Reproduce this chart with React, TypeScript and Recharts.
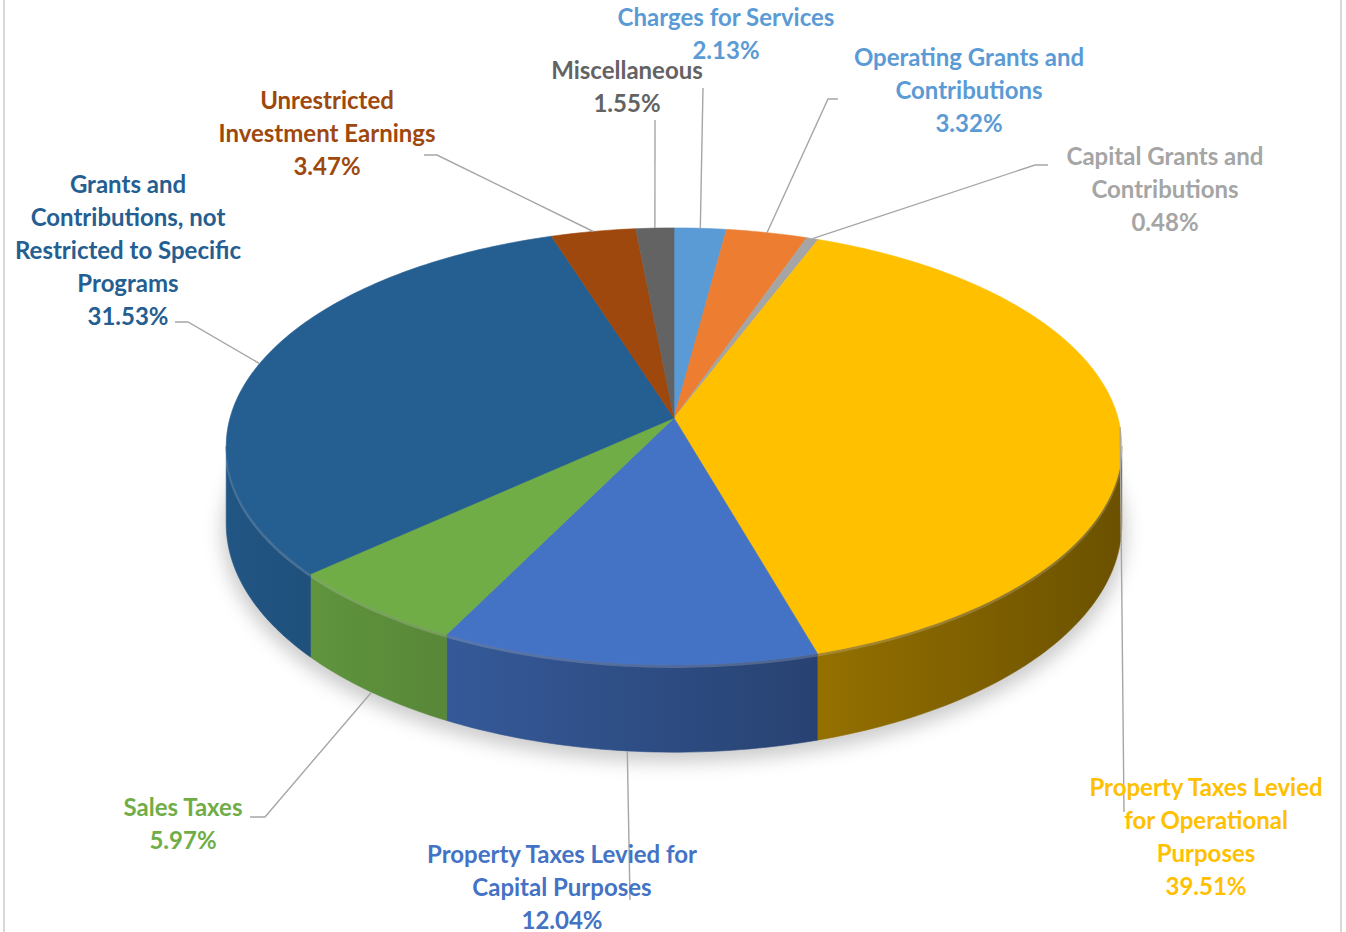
import React from 'react';
import { PieChart, Pie, Cell } from 'recharts';

const categories = [
  'Charges for Services',
  'Operating Grants and\nContributions',
  'Capital Grants and\nContributions',
  'Property Taxes Levied\nfor Operational\nPurposes',
  'Property Taxes Levied for\nCapital Purposes',
  'Sales Taxes',
  'Grants and\nContributions, not\nRestricted to Specific\nPrograms',
  'Unrestricted\nInvestment Earnings',
  'Miscellaneous',
];
const shares = [2.13, 3.32, 0.48, 39.51, 12.04, 5.97, 31.53, 3.47, 1.55];
const sliceColors = ['#5B9BD5', '#ED7D31', '#A5A5A5', '#FFC000', '#4472C4', '#70AD47', '#255E91', '#9E480E', '#636363'];
const labelColors = ['#5B9BD5', '#5B9BD5', '#A5A5A5', '#FFC000', '#4472C4', '#70AD47', '#255E91', '#9E480E', '#636363'];

const data = categories.map((c, i) => ({ name: c.replace(/\n/g, ' '), value: shares[i] }));
const shadowData = [{ name: 'shadow', value: 1 }];

// label placement (text centre x, first line centre y, leader elbow points)
const labelLayout = [
  { x: 726, y: 18, path: [[703, 88]] },
  { x: 969, y: 58, path: [[828, 99], [838, 99]] },
  { x: 1165, y: 157, path: [[1035, 165], [1048, 165]] },
  { x: 1206, y: 788, path: [[1124, 812]] },
  { x: 562, y: 855, path: [[630, 900]] },
  { x: 183, y: 808, path: [[265, 817], [250, 817]] },
  { x: 128, y: 185, path: [[188, 322], [175, 322]] },
  { x: 327, y: 101, path: [[437, 155], [424, 155]] },
  { x: 627, y: 71, path: [[655, 120]] },
];

const K = 0.13; // perspective strength
const TILT = 0.4838; // vertical squash
const DEPTH = 0.171; // thickness relative to radius
const RAD = Math.PI / 180;
const EDGE = Math.asin(K) / RAD;
const FONT = 'Lato, "Open Sans", sans-serif';
const FS = 24;
const LINE = 33;

function project(cx: number, cy: number, r: number, theta: number) {
  const t = theta * RAD;
  const X = Math.sin(t);
  const Z = Math.cos(t);
  const d = 1 + K * Z;
  return { x: cx + (r * X) / d, y: cy - (r * TILT * Z) / d, s: 1 / d, Z };
}

function shade(hex: string, f: number) {
  const n = parseInt(hex.slice(1), 16);
  const r = Math.round(((n >> 16) & 255) * f);
  const g = Math.round(((n >> 8) & 255) * f);
  const b = Math.round((n & 255) * f);
  return `rgb(${r},${g},${b})`;
}

const TopSlice = (props: any) => {
  const { cx, cy, outerRadius, startAngle, endAngle, fill } = props;
  const t1 = 90 - startAngle;
  const t2 = 90 - endAngle;
  const n = Math.max(2, Math.ceil(Math.abs(t2 - t1)));
  let d = `M${cx},${cy}`;
  for (let i = 0; i <= n; i++) {
    const p = project(cx, cy, outerRadius, t1 + ((t2 - t1) * i) / n);
    d += ` L${p.x.toFixed(2)},${p.y.toFixed(2)}`;
  }
  d += ' Z';
  return <path d={d} fill={fill} stroke={fill} strokeWidth={0.6} strokeLinejoin="round" />;
};

const SideSlice = (props: any) => {
  const { cx, cy, outerRadius, startAngle, endAngle, fill } = props;
  const t1 = 90 - startAngle;
  const t2 = 90 - endAngle;
  const lo = Math.max(t1, 90 + EDGE);
  const hi = Math.min(t2, 270 - EDGE);
  if (hi <= lo) return <g />;
  const n = Math.max(2, Math.ceil(hi - lo));
  const top: { x: number; y: number; s: number }[] = [];
  for (let i = 0; i <= n; i++) top.push(project(cx, cy, outerRadius, lo + ((hi - lo) * i) / n));
  let d = '';
  top.forEach((p, i) => {
    d += `${i === 0 ? 'M' : ' L'}${p.x.toFixed(2)},${p.y.toFixed(2)}`;
  });
  for (let i = top.length - 1; i >= 0; i--) {
    const p = top[i];
    d += ` L${p.x.toFixed(2)},${(p.y + outerRadius * DEPTH * p.s).toFixed(2)}`;
  }
  d += ' Z';
  let edge = '';
  top.forEach((p, i) => {
    edge += `${i === 0 ? 'M' : ' L'}${p.x.toFixed(2)},${(p.y + 1.5).toFixed(2)}`;
  });
  const id = `side-${fill.replace('#', '')}`;
  const w = outerRadius * 1.01;
  return (
    <g>
      <defs>
        <linearGradient id={id} gradientUnits="userSpaceOnUse" x1={cx - w} y1={0} x2={cx + w} y2={0}>
          <stop offset="0" stopColor={shade(fill, 0.9)} />
          <stop offset="0.5" stopColor={shade(fill, 0.66)} />
          <stop offset="1" stopColor={shade(fill, 0.42)} />
        </linearGradient>
      </defs>
      <path d={d} fill={`url(#${id})`} stroke={`url(#${id})`} strokeWidth={0.6} />
      <path d={edge} fill="none" stroke="#ffffff" strokeOpacity={0.18} strokeWidth={3} />
    </g>
  );
};

const ShadowShape = (props: any) => {
  const { cx, cy, outerRadius } = props;
  let d = '';
  for (let i = 0; i <= 360; i += 2) {
    const p = project(cx, cy, outerRadius + 4, i);
    const y = p.y + outerRadius * DEPTH * p.s + 8;
    d += `${i === 0 ? 'M' : ' L'}${p.x.toFixed(2)},${y.toFixed(2)}`;
  }
  d += ' Z';
  return (
    <g>
      <defs>
        <filter id="pieShadow" x="-20%" y="-20%" width="140%" height="140%">
          <feGaussianBlur stdDeviation="9" />
        </filter>
      </defs>
      <path d={d} fill="#000" fillOpacity={0.2} filter="url(#pieShadow)" />
    </g>
  );
};

const renderLabel = (p: any) => {
  const i = p.index;
  const theta = 90 - p.midAngle;
  const pt = project(p.cx, p.cy, p.outerRadius, theta);
  const front = pt.Z < -K;
  const ay = front ? pt.y + p.outerRadius * DEPTH * pt.s : pt.y;
  const lay = labelLayout[i];
  const pts = [[pt.x, ay], ...lay.path].map((q) => `${q[0].toFixed(1)},${q[1].toFixed(1)}`).join(' ');
  const lines = categories[i].split('\n').concat([`${shares[i].toFixed(2)}%`]);
  return (
    <g key={`lbl-${i}`}>
      <polyline points={pts} fill="none" stroke="#A6A6A6" strokeWidth={1.4} />
      <text textAnchor="middle" fill={labelColors[i]} fontFamily={FONT} fontWeight={700} fontSize={FS}>
        {lines.map((l, j) => (
          <tspan key={j} x={lay.x} y={lay.y + j * LINE + FS * 0.34}>
            {l}
          </tspan>
        ))}
      </text>
    </g>
  );
};

export default function App() {
  return (
    <div style={{ position: 'absolute', left: 0, top: 0, width: 1346, height: 932, background: '#ffffff' }}>
      <div
        style={{
          position: 'absolute',
          left: 3,
          top: 0,
          width: 1339,
          height: 932,
          borderLeft: '2px solid #D9D9D9',
          borderRight: '2px solid #D9D9D9',
          boxSizing: 'border-box',
        }}
      />
      <div style={{ position: 'absolute', left: 0, top: 0 }}>
        <PieChart width={1346} height={932} margin={{ top: 0, right: 0, bottom: 0, left: 0 }}>
          <Pie
            data={shadowData}
            dataKey="value"
            cx={674}
            cy={418}
            outerRadius={444}
            startAngle={90}
            endAngle={-270}
            isAnimationActive={false}
            inactiveShape={ShadowShape}
            activeShape={ShadowShape}
            shape={ShadowShape}
            labelLine={false}
            fill="#000"
          />
          <Pie
            data={data}
            dataKey="value"
            nameKey="name"
            cx={674}
            cy={418}
            outerRadius={444}
            startAngle={90}
            endAngle={-270}
            isAnimationActive={false}
            inactiveShape={SideSlice}
            activeShape={SideSlice}
            shape={SideSlice}
            labelLine={false}
          >
            {data.map((d, i) => (
              <Cell key={`s-${i}`} fill={sliceColors[i]} />
            ))}
          </Pie>
          <Pie
            data={data}
            dataKey="value"
            nameKey="name"
            cx={674}
            cy={418}
            outerRadius={444}
            startAngle={90}
            endAngle={-270}
            isAnimationActive={false}
            inactiveShape={TopSlice}
            activeShape={TopSlice}
            shape={TopSlice}
            labelLine={false}
            label={renderLabel}
          >
            {data.map((d, i) => (
              <Cell key={`t-${i}`} fill={sliceColors[i]} />
            ))}
          </Pie>
        </PieChart>
      </div>
    </div>
  );
}
